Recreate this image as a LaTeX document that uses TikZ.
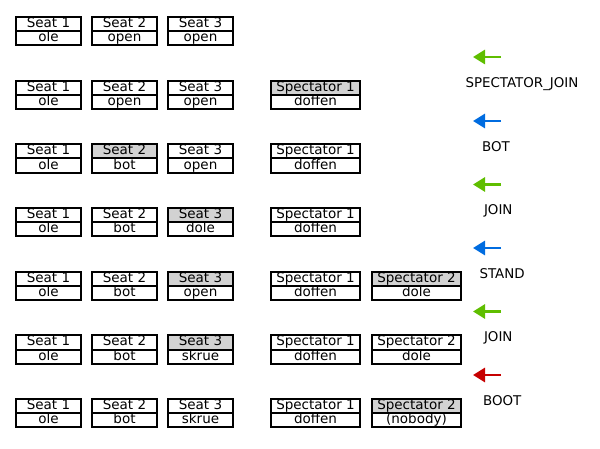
\documentclass[tikz,border=0pt]{standalone}
\usepackage{fontspec}
\setmainfont{DejaVu Sans}
\usetikzlibrary{arrows.meta,shapes.multipart}

\definecolor{joingreen}{RGB}{95,190,0}
\definecolor{movblue}{RGB}{0,108,224}
\definecolor{bootred}{RGB}{198,0,0}

\newcommand{\slotstrut}{\rule[-2.6pt]{0pt}{12.2pt}}
\newcommand{\slotcell}[3][64.5pt]{\makebox[#1]{\smash{#2}\slotstrut}\nodepart{two}\makebox[#1]{\smash{#3}\slotstrut}}

\tikzset{
  slot/.style={rectangle split, rectangle split parts=2, draw, line width=2pt,
    inner xsep=0pt, inner ysep=0pt,
    font=\fontsize{13.5}{14}\selectfont, rectangle split part fill={white,white}},
  seat/.style={slot},
  spectator/.style={slot},
  changed/.style={rectangle split part fill={gray!35,white}},
  event/.style={line width=2.8pt, -{Triangle[length=12pt,width=14pt]}},
  eventname/.style={anchor=west, font=\fontsize{13.4}{15}\selectfont},
}

\begin{document}
\begin{tikzpicture}[x=1pt,y=-1pt]
        \useasboundingbox (0,0) rectangle (600,449);
        % row 1
        \node[seat] (r1s1) at (48.5,31) {\slotcell{Seat 1}{ole}};
        \node[seat] (r1s2) at (124.5,31) {\slotcell{Seat 2}{open}};
        \node[seat] (r1s3) at (200.5,31) {\slotcell{Seat 3}{open}};
        % row 2
        \node[seat] (r2s1) at (48.5,95) {\slotcell{Seat 1}{ole}};
        \node[seat] (r2s2) at (124.5,95) {\slotcell{Seat 2}{open}};
        \node[seat] (r2s3) at (200.5,95) {\slotcell{Seat 3}{open}};
        \node[spectator,changed] (r2p1) at (315.5,95) {\slotcell[89pt]{Spectator 1}{doffen}};
        % row 3
        \node[seat] (r3s1) at (48.5,158.5) {\slotcell{Seat 1}{ole}};
        \node[seat,changed] (r3s2) at (124.5,158.5) {\slotcell{Seat 2}{bot}};
        \node[seat] (r3s3) at (200.5,158.5) {\slotcell{Seat 3}{open}};
        \node[spectator] (r3p1) at (315.5,158.5) {\slotcell[89pt]{Spectator 1}{doffen}};
        % row 4
        \node[seat] (r4s1) at (48.5,222) {\slotcell{Seat 1}{ole}};
        \node[seat] (r4s2) at (124.5,222) {\slotcell{Seat 2}{bot}};
        \node[seat,changed] (r4s3) at (200.5,222) {\slotcell{Seat 3}{dole}};
        \node[spectator] (r4p1) at (315.5,222) {\slotcell[89pt]{Spectator 1}{doffen}};
        % row 5
        \node[seat] (r5s1) at (48.5,286) {\slotcell{Seat 1}{ole}};
        \node[seat] (r5s2) at (124.5,286) {\slotcell{Seat 2}{bot}};
        \node[seat,changed] (r5s3) at (200.5,286) {\slotcell{Seat 3}{open}};
        \node[spectator] (r5p1) at (315.5,286) {\slotcell[89pt]{Spectator 1}{doffen}};
        \node[spectator,changed] (r5p2) at (416.5,286) {\slotcell[89pt]{Spectator 2}{dole}};
        % row 6
        \node[seat] (r6s1) at (48.5,349.5) {\slotcell{Seat 1}{ole}};
        \node[seat] (r6s2) at (124.5,349.5) {\slotcell{Seat 2}{bot}};
        \node[seat,changed] (r6s3) at (200.5,349.5) {\slotcell{Seat 3}{skrue}};
        \node[spectator] (r6p1) at (315.5,349.5) {\slotcell[89pt]{Spectator 1}{doffen}};
        \node[spectator] (r6p2) at (416.5,349.5) {\slotcell[89pt]{Spectator 2}{dole}};
        % row 7
        \node[seat] (r7s1) at (48.5,413) {\slotcell{Seat 1}{ole}};
        \node[seat] (r7s2) at (124.5,413) {\slotcell{Seat 2}{bot}};
        \node[seat] (r7s3) at (200.5,413) {\slotcell{Seat 3}{skrue}};
        \node[spectator] (r7p1) at (315.5,413) {\slotcell[89pt]{Spectator 1}{doffen}};
        \node[spectator,changed] (r7p2) at (416.5,413) {\slotcell[89pt]{Spectator 2}{(nobody)}};
        % events
        \coordinate (e1tail) at (501,57);  \coordinate (e1tip) at (473,57);
        \coordinate (e2tail) at (501,121); \coordinate (e2tip) at (473,121);
        \coordinate (e3tail) at (501,184.5); \coordinate (e3tip) at (473,184.5);
        \coordinate (e4tail) at (501,248); \coordinate (e4tip) at (473,248);
        \coordinate (e5tail) at (501,311.5); \coordinate (e5tip) at (473,311.5);
        \coordinate (e6tail) at (501,375); \coordinate (e6tip) at (473,375);
        \draw[event,joingreen] (e1tail) -- (e1tip);
        \draw[event,movblue] (e2tail) -- (e2tip);
        \draw[event,joingreen] (e3tail) -- (e3tip);
        \draw[event,movblue] (e4tail) -- (e4tip);
        \draw[event,joingreen] (e5tail) -- (e5tip);
        \draw[event,bootred] (e6tail) -- (e6tip);
        \node[eventname] (e1) at (462,84) {SPECTATOR\_JOIN};
        \node[eventname] (e2) at (478.5,147) {BOT};
        \node[eventname] (e3) at (480.5,210.5) {JOIN};
        \node[eventname] (e4) at (476,274) {STAND};
        \node[eventname] (e5) at (480.5,337.5) {JOIN};
        \node[eventname] (e6) at (479.5,401) {BOOT};
    \end{tikzpicture}
\end{document}
